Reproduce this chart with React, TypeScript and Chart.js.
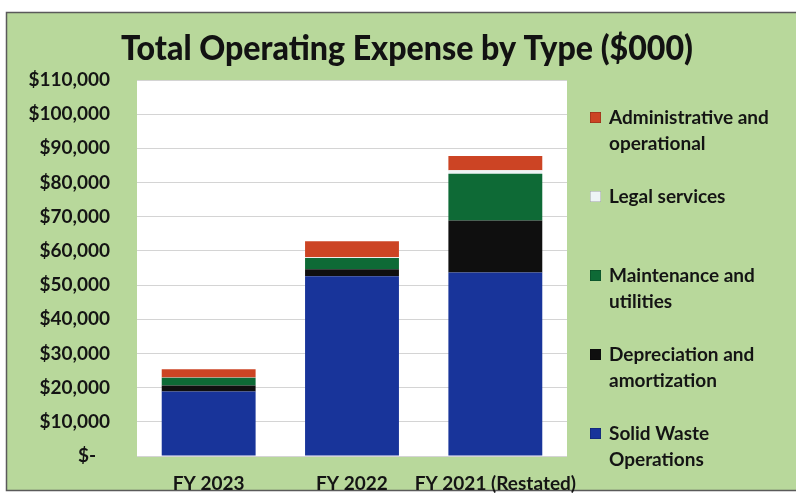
import React, { useEffect, useRef } from "react";
import { Chart, registerables } from "chart.js";

Chart.register(...registerables);

// ---- data ----
const categories = ["FY 2023", "FY 2022", "FY 2021 (Restated)"];
const solidWasteOps = [18900, 52600, 53700];
const depreciationAmort = [1700, 2000, 15200];
const maintenanceUtil = [2300, 3300, 13700];
const legalServices = [50, 250, 1000];
const adminOperational = [2400, 4700, 4200];

const seriesNames = [
  "Solid Waste\nOperations",
  "Depreciation and\namortization",
  "Maintenance and\nutilities",
  "Legal services",
  "Administrative and\noperational",
];
const seriesValues = [solidWasteOps, depreciationAmort, maintenanceUtil, legalServices, adminOperational];
const seriesColors = ["#18349a", "#0f0f0f", "#0e6a36", "#eef4f6", "#cc4424"];

const yMin = 0;
const yMax = 110000;
const yStep = 10000;
const titleText = "Total Operating Expense by Type ($000)";

const FONT = "Lato, 'Open Sans', sans-serif";
const BG_GREEN = "#b8d89b";
const TEXT = "#141414";

const backgroundPlugin = {
  id: "bgPlugin",
  beforeDraw(chart: any) {
    const { ctx, chartArea, width, height } = chart;
    ctx.save();
    ctx.fillStyle = "#ffffff";
    ctx.fillRect(0, 0, width, height);
    ctx.fillStyle = BG_GREEN;
    ctx.fillRect(6, 12, width - 6, height - 12 - 5);
    ctx.strokeStyle = "#5a5a5a";
    ctx.lineWidth = 1.5;
    ctx.beginPath();
    ctx.moveTo(width, 12.5);
    ctx.lineTo(6.5, 12.5);
    ctx.lineTo(6.5, height - 5.5);
    ctx.lineTo(width, height - 5.5);
    ctx.stroke();
    ctx.fillStyle = "#ffffff";
    ctx.fillRect(chartArea.left, chartArea.top, chartArea.right - chartArea.left, chartArea.bottom - chartArea.top);
    ctx.restore();
  },
  afterDraw(chart: any) {
    const { ctx } = chart;
    // title
    ctx.save();
    ctx.font = `900 34px ${FONT}`;
    ctx.fillStyle = "#121212";
    ctx.textBaseline = "alphabetic";
    ctx.textAlign = "left";
    const w = ctx.measureText(titleText).width;
    const targetW = 572;
    const sx = targetW / w;
    const cx = 407;
    ctx.translate(cx - targetW / 2, 60);
    ctx.scale(sx, 1);
    ctx.fillText(titleText, 0, 0);
    ctx.restore();

    // legend
    ctx.save();
    ctx.font = `bold 19px ${FONT}`;
    ctx.fillStyle = TEXT;
    ctx.textBaseline = "middle";
    ctx.textAlign = "left";
    const ds = chart.data.datasets;
    const firstY = 118;
    const step = 79;
    const lineH = 26;
    for (let i = 0; i < ds.length; i++) {
      const d = ds[ds.length - 1 - i];
      const y = firstY + i * step;
      ctx.fillStyle = d.backgroundColor;
      ctx.fillRect(590, y - 6, 11, 11);
      ctx.strokeStyle = "rgba(0,0,0,0.35)";
      ctx.lineWidth = 0.5;
      ctx.strokeRect(590.25, y - 5.75, 10.5, 10.5);
      ctx.fillStyle = TEXT;
      const lines = String(d.label).split("\n");
      lines.forEach((ln: string, k: number) => ctx.fillText(ln, 609, y + k * lineH));
    }
    ctx.restore();
  },
};

export default function App() {
  const ref = useRef<HTMLCanvasElement | null>(null);
  useEffect(() => {
    if (!ref.current) return;
    const chart = new Chart(ref.current, {
      type: "bar",
      data: {
        labels: categories,
        datasets: seriesNames.map((name, i) => ({
          label: name,
          data: seriesValues[i],
          backgroundColor: seriesColors[i],
          borderWidth: 0,
          categoryPercentage: 1,
          barPercentage: 0.655,
        })),
      },
      options: {
        responsive: false,
        animation: false,
        layout: { padding: { left: 0, right: 229, top: 80, bottom: 0 } },
        plugins: {
          legend: { display: false },
          title: { display: false },
          tooltip: { enabled: false },
        },
        scales: {
          x: {
            stacked: true,
            grid: { display: false, drawTicks: false },
            border: { display: false },
            ticks: {
              color: TEXT,
              font: { family: FONT, size: 19, weight: "bold" },
              maxRotation: 0,
              minRotation: 0,
              autoSkip: false,
              padding: 16,
            },
            afterFit(scale: any) {
              scale.height = 40;
            },
          },
          y: {
            stacked: true,
            min: yMin,
            max: yMax,
            grid: { color: "#d4d4d4", lineWidth: 1, drawTicks: false },
            border: { display: false },
            ticks: {
              stepSize: yStep,
              color: TEXT,
              padding: 27,
              font: { family: FONT, size: 19, weight: "bold" },
              callback: (v: any) => (Number(v) === 0 ? "$-   " : "$" + Number(v).toLocaleString("en-US")),
            },
            afterFit(scale: any) {
              scale.width = 137;
            },
          },
        },
      },
      plugins: [backgroundPlugin],
    });
    return () => chart.destroy();
  }, []);
  return (
    <div style={{ position: "fixed", left: 0, top: 0, width: 796, height: 496 }}>
      <canvas ref={ref} width={796} height={496} style={{ display: "block" }} />
    </div>
  );
}
